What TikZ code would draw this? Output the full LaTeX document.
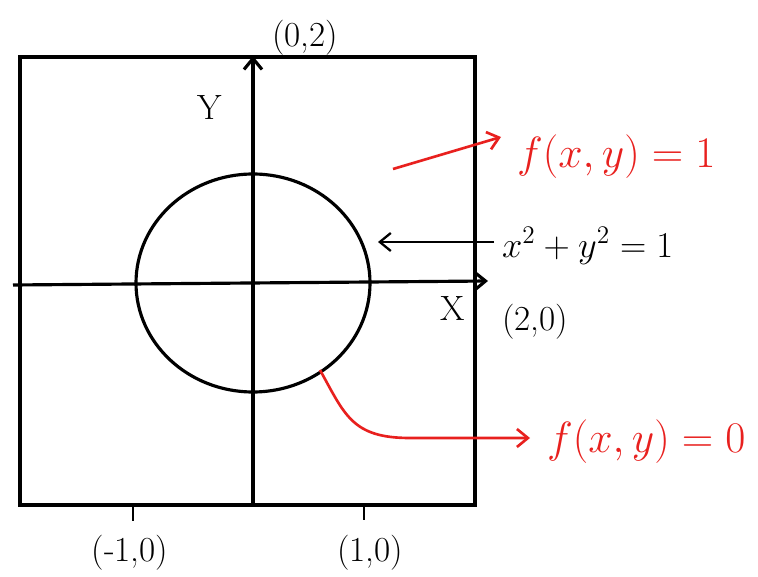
\documentclass[tikz,border=0pt]{standalone}
\usetikzlibrary{arrows.meta,positioning,calc}
\definecolor{penred}{HTML}{E8201E}

\begin{document}
\begin{tikzpicture}[
    x=0.02cm, y=-0.02cm,
    >={Straight Barb[length=2.2mm,width=3.6mm]},
    ink/.style    = {draw=black, line width=1.8pt},
    thinink/.style= {draw=black, line width=1.3pt},
    redsig/.style = {draw=penred, line width=1.5pt, ->},
    lbl/.style    = {font=\fontsize{20}{24}\selectfont, inner sep=1pt},
    eqlbl/.style  = {font=\fontsize{20}{24}\selectfont, inner sep=1pt},
    redlbl/.style = {font=\fontsize{23}{27}\selectfont, text=penred, inner sep=1pt},
  ]
  \useasboundingbox (0,0) rectangle (758,577);

  % ===================================================================
  % Frame, axes and the unit circle
  % ===================================================================
  \draw[ink] (20,57) rectangle (475,505);
  \coordinate (o)     at (253,283);
  \coordinate (xbeg)  at (13,285);
  \coordinate (xend)  at (488,281);
  \coordinate (ybeg)  at (253,505);
  \coordinate (yend)  at (253,56);
  \draw[ink,->] (xbeg) -- (xend);
  \draw[ink,->] (ybeg) -- (yend);
  \draw[ink] (o) ellipse [x radius=117, y radius=109];

  % ticks at the bottom edge
  \draw[thinink] (133,505) -- (133,521);
  \draw[thinink] (364,505) -- (364,520);

  % ===================================================================
  % Black labels
  % ===================================================================
  \node[lbl] (ytop)  at (305,38)  {(0,2)};
  \node[lbl] (ylab)  at (210,108) {Y};
  \node[lbl] (xlab)  at (453,309) {X};
  \node[lbl] (xtop)  at (535,322) {(2,0)};
  \node[lbl] (xneg)  at (130,553) {(-1,0)};
  \node[lbl] (xpos)  at (370,553) {(1,0)};

  \coordinate (eqtip) at (378,242);
  \node[eqlbl, anchor=west] (circeq) at (500,246) {$x^2+y^2=1$};
  \draw[thinink,->] ($(circeq.west)+(-6,-4)$) -- (eqtip);

  % ===================================================================
  % Red annotations
  % ===================================================================
  \coordinate (fonestart) at (393,169);
  \node[redlbl, anchor=west] (fone) at (515,157) {$f(x,y)=1$};
  \draw[redsig] (fonestart) -- ($(fone.west)+(-14,-20)$);

  \coordinate (circpt) at (320,370);
  \node[redlbl, anchor=west] (fzero) at (545,442) {$f(x,y)=0$};
  \draw[redsig, shorten >=0.3cm] (circpt)
    .. controls (345,415) and (352,438) .. (410,438) -- (fzero.west |- 0,438);

\end{tikzpicture}
\end{document}
